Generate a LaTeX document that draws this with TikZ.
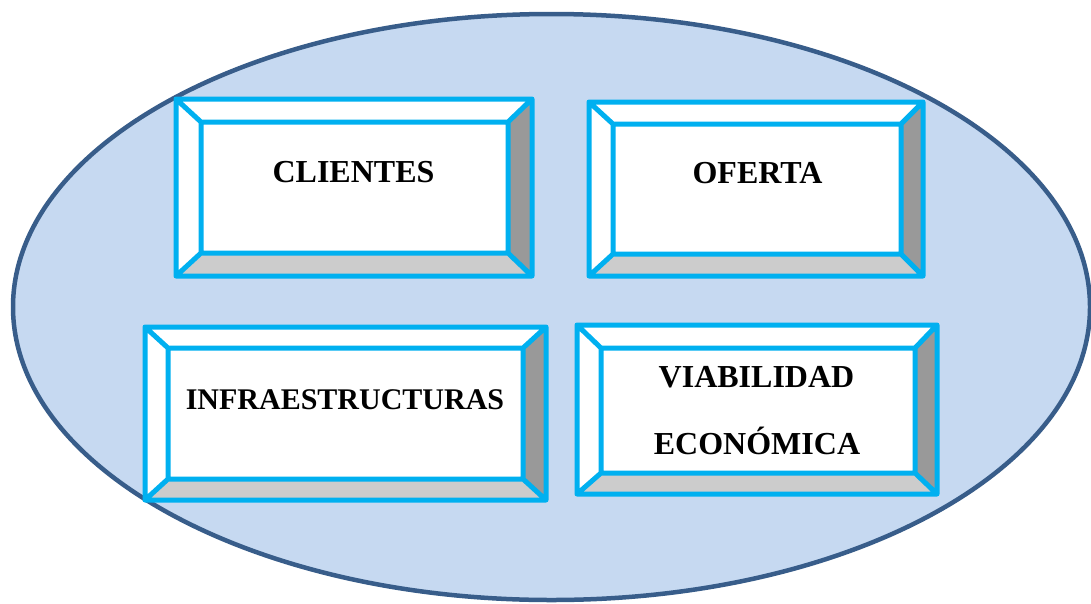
\documentclass[tikz,border=0pt]{standalone}
\usepackage{fontspec}
\setmainfont{Liberation Serif}
\definecolor{ovalfill}{HTML}{C6D9F1}
\definecolor{ovalline}{HTML}{385D8A}
\definecolor{framecyan}{HTML}{00B0F0}
\definecolor{sidegray}{HTML}{999999}
\definecolor{basegray}{HTML}{CCCCCC}
\tikzset{
  oval/.style={fill=ovalfill, draw=ovalline, line width=4.5pt},
  frame/.style={draw=framecyan, line width=5pt, line join=round, line cap=round},
  label/.style={anchor=base, inner sep=0pt, font=\bfseries\fontsize{32}{36}\selectfont},
}
% Bevelled button: #1 name, (#2,#3) outer top-left, (#4,#5) outer bottom-right,
% (#6,#7) inner top-left, (#8,#9) inner bottom-right
\newcommand\bevelbox[9]{%
  \coordinate (#1-a) at (#2,#3);
  \coordinate (#1-b) at (#4,#5);
  \coordinate (#1-c) at (#6,#7);
  \coordinate (#1-d) at (#8,#9);
  \fill[white] (#1-a) rectangle (#1-b);
  \fill[sidegray] (#1-a -| #1-b) -- (#1-b) -- (#1-d) -- (#1-c -| #1-d) -- cycle;
  \fill[basegray] (#1-a |- #1-b) -- (#1-b) -- (#1-d) -- (#1-c |- #1-d) -- cycle;
  \draw[frame] (#1-a) rectangle (#1-b) (#1-c) rectangle (#1-d)
    (#1-a) -- (#1-c)
    (#1-a -| #1-b) -- (#1-c -| #1-d)
    (#1-b) -- (#1-d)
    (#1-a |- #1-b) -- (#1-c |- #1-d);
}
\begin{document}
\begin{tikzpicture}[x=1pt, y=-1pt]
  \useasboundingbox (0,0) rectangle (1091,603);
  % background oval
  \draw[oval] (551.5,307) ellipse [x radius=538.5, y radius=293];
  % four bevelled buttons
  \bevelbox{cli}{176}{99}{532}{276}{201}{122}{508}{253}
  \bevelbox{ofe}{589}{102}{923}{276}{613}{124}{901}{254}
  \bevelbox{inf}{145}{327}{546}{500}{168}{348}{523}{479}
  \bevelbox{via}{577}{325}{937}{494}{601}{348}{915}{473}
  % captions
  \node[label] (tcli) at (353.5,182) {CLIENTES};
  \node[label] (tofe) at (757.5,183) {OFERTA};
  \node[label, font=\bfseries\fontsize{30}{34}\selectfont] (tinf) at (345,409) {INFRAESTRUCTURAS};
  \node[label] (tvia1) at (756.5,387) {VIABILIDAD};
  \node[label] (tvia2) at (757,454) {ECONÓMICA};
\end{tikzpicture}
\end{document}
